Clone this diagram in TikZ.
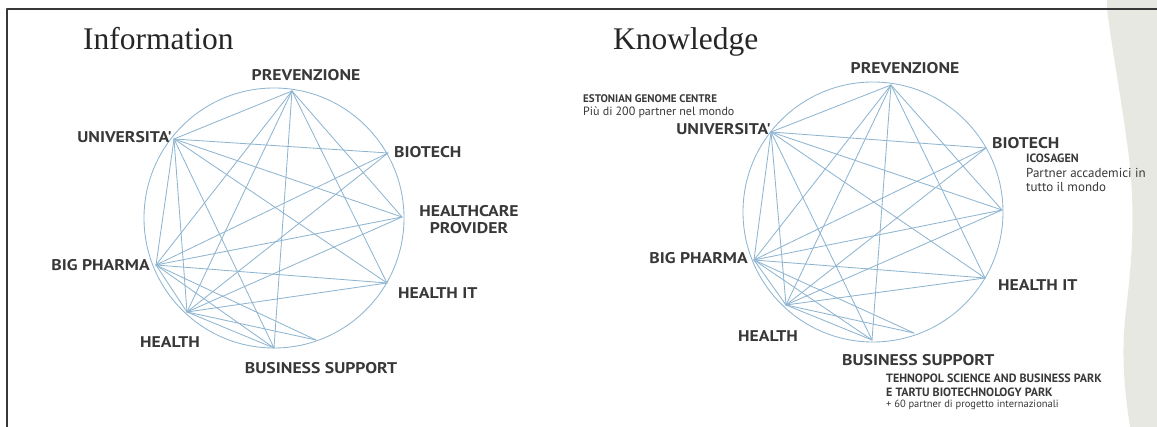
\documentclass[tikz,border=0pt]{standalone}
\usepackage{fontspec}
\usepackage{tikz}
\usetikzlibrary{positioning}
\newfontfamily\labelfont[FakeStretch=1.14]{PT Sans}
\newfontfamily\notefont{PT Sans}
\newfontfamily\titlefont{Liberation Serif}
\definecolor{qqaacc}{rgb}{0.56,0.71,0.82}
\definecolor{zzzzzz}{rgb}{0.22,0.22,0.22}
\definecolor{eeeeee}{rgb}{0.91,0.91,0.89}
\tikzset{
  link/.style={color=qqaacc,line width=0.85pt},
  lbl/.style={inner sep=0pt,text=zzzzzz,font=\labelfont\bfseries\fontsize{15.5}{17}\selectfont},
  note/.style={inner sep=0pt,text=zzzzzz,font=\notefont\fontsize{10.5}{13}\selectfont},
  notecap/.style={note,font=\notefont\bfseries\fontsize{11}{13}\selectfont},
  ttl/.style={inner sep=0pt,text=black!85,font=\titlefont\fontsize{31.5}{34}\selectfont}
}
\newcommand{\netlinks}[1]{%
  \foreach \a/\b in {U/P,U/B,U/HC,U/IT,U/BP,U/H,U/BS,P/BP,P/H,P/BS,P/IT,P/HC,B/BP,B/H,HC/BP,HC/H,IT/BP,IT/H,BP/BS,BP/X,BP/H,H/BS,H/X}
    \draw[link] (#1\a) -- (#1\b);}
\begin{document}
\begin{tikzpicture}[line cap=round,line join=round,x=1pt,y=-1pt]
\useasboundingbox (0,0) rectangle (1157,427);
% grey edge of the page
\fill[eeeeee] (1107,0) -- (1107,9) .. controls (1112,50) and (1120,90) .. (1128,150)
  .. controls (1136,210) and (1132,260) .. (1126,310) .. controls (1120,360) and (1126,400) .. (1130,427)
  -- (1157,427) -- (1157,0) -- cycle;
\draw[line width=1.5pt,color=zzzzzz] (7,440) -- (7,9) -- (1170,9);
% left network
\coordinate (lC) at (274,218);
\coordinate (lP) at (292,91);
\coordinate (lU) at (174,139);
\coordinate (lB) at (388,153);
\coordinate (lHC) at (402,217);
\coordinate (lIT) at (387,283);
\coordinate (lBP) at (156,265);
\coordinate (lH) at (187,312);
\coordinate (lBS) at (274,348);
\coordinate (lX) at (316,340);
\draw[link] (lC) circle[radius=130pt];
\netlinks{l}
\node[ttl,anchor=base west] (lTitle) at (83,50) {Information};
\node[lbl] (lPrev) at (306,75) {PREVENZIONE};
\node[lbl,anchor=east] (lUniv) at (172,137) {UNIVERSITA'};
\node[lbl,anchor=west] (lBio) at (394,152) {BIOTECH};
\node[lbl,align=center] (lCare) at (469,220) {HEALTHCARE\\PROVIDER};
\node[lbl,anchor=east] (lPharma) at (150,265) {BIG PHARMA};
\node[lbl,anchor=west] (lIt) at (398,293) {HEALTH IT};
\node[lbl] (lHealth) at (170,342) {HEALTH};
\node[lbl] (lBus) at (321,368) {BUSINESS SUPPORT};
% right network
\coordinate (rC) at (873,212);
\coordinate (rP) at (891,85);
\coordinate (rU) at (771,132);
\coordinate (rB) at (986,148);
\coordinate (rHC) at (1002,210);
\coordinate (rIT) at (985,278);
\coordinate (rBP) at (754,260);
\coordinate (rH) at (786,305);
\coordinate (rBS) at (872,340);
\coordinate (rX) at (914,333);
\draw[link] (rC) circle[radius=130pt];
\netlinks{r}
\node[ttl,anchor=base west] (rTitle) at (613,50) {Knowledge};
\node[lbl] (rPrev) at (905,68) {PREVENZIONE};
\node[notecap,anchor=west] (rEgc) at (583,99) {ESTONIAN GENOME CENTRE};
\node[note,anchor=west,font=\notefont\fontsize{12}{14}\selectfont] (rEgcTxt) at (583,112) {Più di 200 partner nel mondo};
\node[lbl,anchor=east] (rUniv) at (771,129) {UNIVERSITA'};
\node[lbl,anchor=west] (rBio) at (992,143) {BIOTECH};
\node[notecap,anchor=west,font=\notefont\bfseries\fontsize{12}{14}\selectfont] (rIco) at (1026,158) {ICOSAGEN};
\node[note,anchor=west,align=left,font=\notefont\fontsize{13}{14}\selectfont] (rIcoTxt) at (1026,180) {Partner accademici in\\tutto il mondo};
\node[lbl,anchor=east] (rPharma) at (748,258) {BIG PHARMA};
\node[lbl,anchor=west] (rIt) at (998,285) {HEALTH IT};
\node[lbl] (rHealth) at (768,336) {HEALTH};
\node[lbl,anchor=west] (rBus) at (842,360) {BUSINESS SUPPORT};
\node[notecap,anchor=west,align=left,font=\notefont\bfseries\fontsize{12}{14}\selectfont] (rPark) at (886,385) {TEHNOPOL SCIENCE AND BUSINESS PARK\\E TARTU BIOTECHNOLOGY PARK};
\node[note,anchor=west] (rParkTxt) at (886,405) {+ 60 partner di progetto internazionali};
\end{tikzpicture}
\end{document}
